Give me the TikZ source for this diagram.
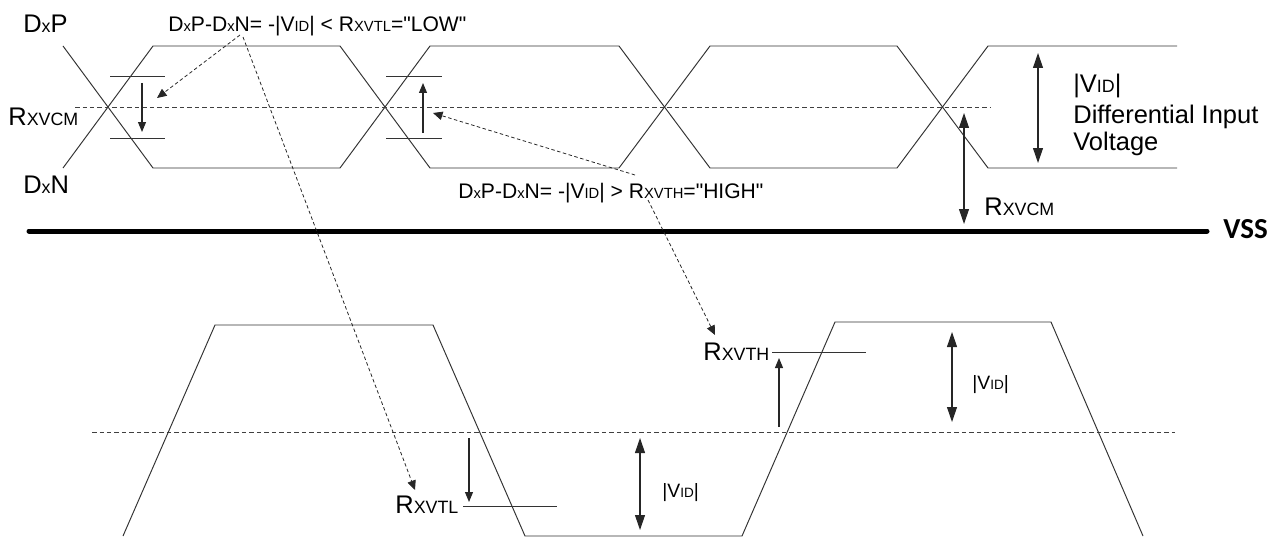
\documentclass[tikz,border=0pt]{standalone}
\usepackage{fontspec}
\setmainfont{Liberation Sans}
\newfontfamily\vssfont{Carlito}
\usepackage{graphicx}
\usetikzlibrary{arrows.meta}
\newcommand{\subcap}[1]{\scalebox{0.7}{#1}}

\begin{document}
\begin{tikzpicture}[x=0.02cm, y=-0.02cm,
    wave/.style={line width=0.55pt, black!80},
    midline/.style={line width=0.45pt, black!75, dash pattern=on 0.9mm off 0.6mm},
    tick/.style={line width=0.55pt, black!80},
    thr/.style={line width=0.6pt, black!85, -{Triangle[length=2mm, width=1.6mm]}},
    span/.style={line width=0.6pt, black!85, {Triangle[length=3mm, width=2mm]}-{Triangle[length=3mm, width=2mm]}},
    callout/.style={line width=0.45pt, black!85, dash pattern=on 0.7mm off 0.5mm, -{Triangle[length=1.9mm, width=1.7mm]}},
    lbl/.style={anchor=base west, inner sep=0pt, font=\fontsize{14.5}{17}\selectfont},
    cond/.style={anchor=base west, inner sep=0pt, font=\fontsize{12}{14}\selectfont},
    vid/.style={anchor=base west, inner sep=0pt, font=\fontsize{11}{13}\selectfont}]
  \useasboundingbox (0,0) rectangle (1283,537);

  % Top eye: DxP and DxN
  \draw[wave] (63,46) -- (153,168) -- (340,168) -- (430,46) -- (619,46)
    -- (710,168) -- (897,168) -- (988,46) -- (1177,46);
  \draw[wave] (63,168) -- (153,46) -- (340,46) -- (430,168) -- (619,168)
    -- (710,46) -- (897,46) -- (988,168) -- (1177,168);
  \draw[midline] (75,107) -- (990,107);

  % Thresholds at the first two crossings
  \draw[tick] (110,76) -- (165,76);
  \draw[tick] (110,138) -- (165,138);
  \draw[thr] (142,83) -- (142,132);
  \draw[tick] (386,76) -- (442,76);
  \draw[tick] (386,138) -- (442,138);
  \draw[thr] (423,133) -- (423,83);

  % Top labels
  \node[lbl] (dxp) at (23,33) {D\subcap{x}P};
  \node[lbl] (vcmleft) at (8,125) {R\subcap{XVCM}};
  \node[lbl] (dxn) at (23,193) {D\subcap{x}N};
  \node[cond] (lowtxt) at (168,32) {D\subcap{x}P-D\subcap{x}N= -|V\subcap{ID}| < R\subcap{XVTL}=\textquotedbl LOW\textquotedbl};
  \node[cond] (hightxt) at (458,198) {D\subcap{x}P-D\subcap{x}N= -|V\subcap{ID}| > R\subcap{XVTH}=\textquotedbl HIGH\textquotedbl};

  % Swing and common mode
  \draw[span] (1038,53) -- (1038,163);
  \node[lbl] (vidtop) at (1073,92) {|V\subcap{ID}|};
  \node[lbl] (diff) at (1073,123) {Differential Input};
  \node[lbl] (volt) at (1073,150) {Voltage};
  \draw[span] (964,113) -- (964,224);
  \node[lbl] (vcmright) at (984,215) {R\subcap{XVCM}};

  % VSS rail
  \draw[line width=1mm, line cap=round] (29,231) -- (1207,231);
  \node[anchor=base west, inner sep=0pt, font=\vssfont\bfseries\fontsize{16.5}{19}\selectfont] (vss) at (1223,238) {VSS};

  % Bottom: single ended view
  \draw[midline] (92,432) -- (1175,432);
  \draw[wave] (123,536) -- (215,325) -- (433,325) -- (525,536) -- (742,536)
    -- (835,322) -- (1051,322) -- (1143,536);

  % Low threshold
  \draw[tick] (463,506) -- (557,506);
  \draw[thr] (469,438) -- (469,502);
  \node[lbl] (vtl) at (395,513) {R\subcap{XVTL}};
  \draw[span] (640,438) -- (640,530);
  \node[vid] (vidlow) at (662,497) {|V\subcap{ID}|};

  % High threshold
  \draw[tick] (772,352) -- (866,352);
  \draw[thr] (779,427) -- (779,358);
  \node[lbl] (vth) at (703,360) {R\subcap{XVTH}};
  \draw[span] (952,332) -- (952,422);
  \node[vid] (vidhigh) at (972,389) {|V\subcap{ID}|};

  % Callouts
  \coordinate (lowfoot) at (240,35);
  \coordinate (lowtip) at (157,98);
  \coordinate (lowfoot2) at (243,37);
  \coordinate (vtltip) at (415,490);
  \coordinate (highfoot) at (635,175);
  \coordinate (hightip) at (433,113);
  \coordinate (highfoot2) at (648,200);
  \coordinate (vthtip) at (715,335);
  \draw[callout] (lowfoot) -- (lowtip);
  \draw[callout] (lowfoot2) -- (vtltip);
  \draw[callout] (highfoot) -- (hightip);
  \draw[callout] (highfoot2) -- (vthtip);
\end{tikzpicture}
\end{document}
